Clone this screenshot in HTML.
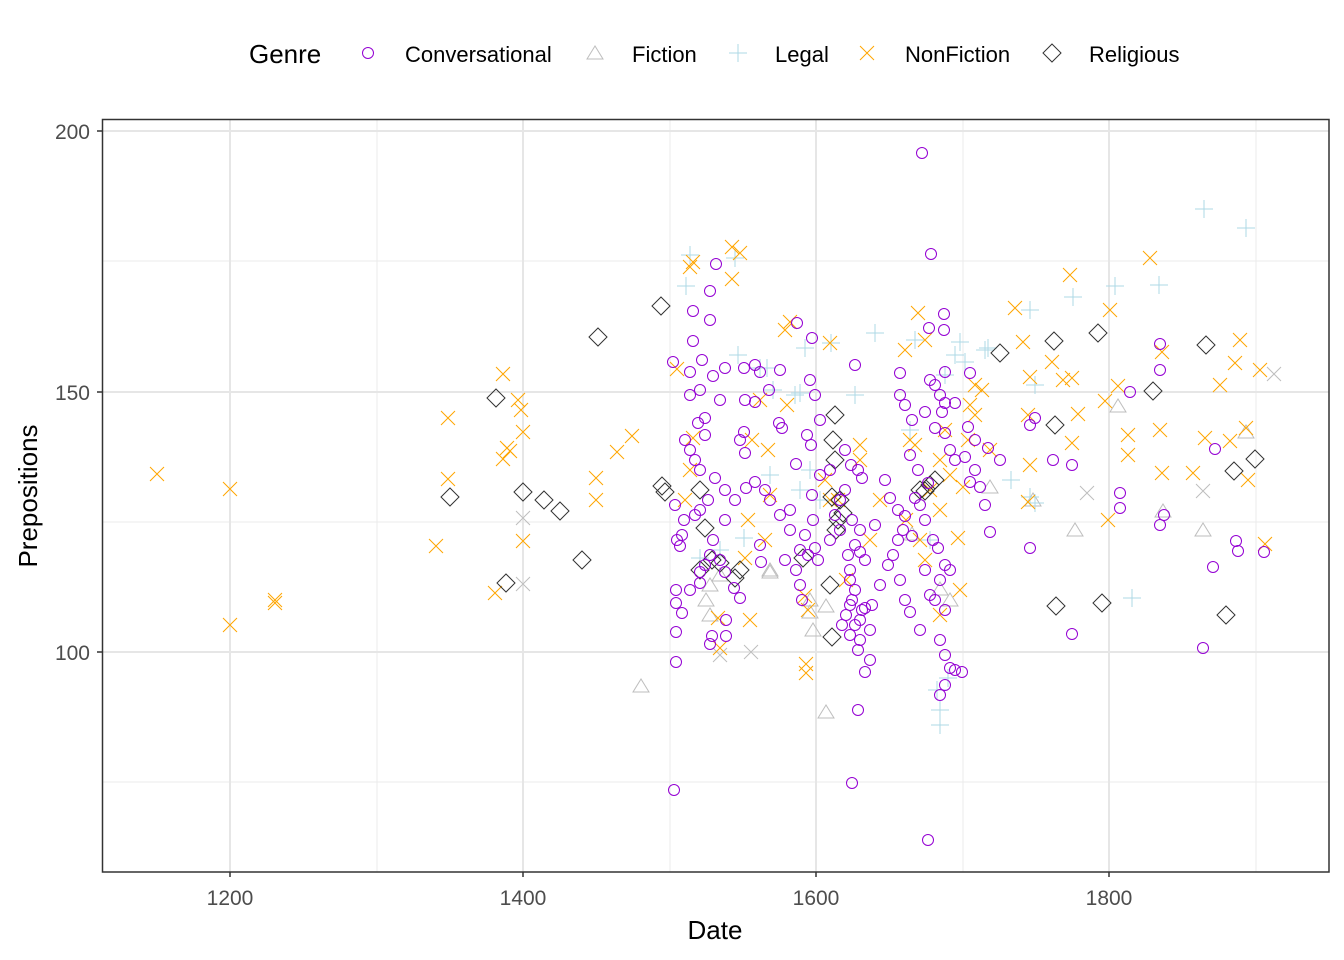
<!DOCTYPE html>
<html><head><meta charset="utf-8"><style>
html,body{margin:0;padding:0;background:#fff;}
svg{display:block;font-family:"Liberation Sans",Arial,sans-serif;}
</style></head><body>
<svg id="s" width="1344" height="960" xmlns="http://www.w3.org/2000/svg">
<rect width="1344" height="960" fill="#fff"/>
<g stroke="#ebebeb" stroke-width="1">
<line x1="377" y1="119" x2="377" y2="872"/><line x1="670" y1="119" x2="670" y2="872"/><line x1="963" y1="119" x2="963" y2="872"/><line x1="1256" y1="119" x2="1256" y2="872"/>
<line x1="102" y1="261" x2="1329" y2="261"/><line x1="102" y1="522" x2="1329" y2="522"/><line x1="102" y1="782" x2="1329" y2="782"/>
</g>
<g stroke="#e6e6e6" stroke-width="2">
<line x1="230" y1="119" x2="230" y2="872"/><line x1="523" y1="119" x2="523" y2="872"/><line x1="816" y1="119" x2="816" y2="872"/><line x1="1109" y1="119" x2="1109" y2="872"/>
<line x1="102" y1="131" x2="1329" y2="131"/><line x1="102" y1="392" x2="1329" y2="392"/><line x1="102" y1="652" x2="1329" y2="652"/>
</g>
<g id="pts"></g>
<rect x="102.5" y="119.5" width="1226.5" height="752.5" fill="none" stroke="#333" stroke-width="1.5"/>
<g stroke="#333" stroke-width="1.5">
<line x1="97" y1="131" x2="102" y2="131"/><line x1="97" y1="392" x2="102" y2="392"/><line x1="97" y1="652" x2="102" y2="652"/>
<line x1="230" y1="872" x2="230" y2="877"/><line x1="523" y1="872" x2="523" y2="877"/><line x1="816" y1="872" x2="816" y2="877"/><line x1="1109" y1="872" x2="1109" y2="877"/>
</g>
<g fill="#4d4d4d" font-size="21">
<text x="90" y="139" text-anchor="end">200</text><text x="90" y="400" text-anchor="end">150</text><text x="90" y="660" text-anchor="end">100</text>
<text x="230" y="905" text-anchor="middle">1200</text><text x="523" y="905" text-anchor="middle">1400</text><text x="816" y="905" text-anchor="middle">1600</text><text x="1109" y="905" text-anchor="middle">1800</text>
</g>
<text x="715" y="939" text-anchor="middle" font-size="26">Date</text>
<text transform="translate(37,496) rotate(-90)" text-anchor="middle" font-size="26">Prepositions</text>
<text x="249" y="63" font-size="26">Genre</text>
<g font-size="22">
<text x="405" y="62">Conversational</text><text x="632" y="62">Fiction</text><text x="775" y="62">Legal</text><text x="905" y="62">NonFiction</text><text x="1089" y="62">Religious</text>
</g>
<g id="leg"></g>
</svg>
<script>
var NS="http://www.w3.org/2000/svg";
function el(p,t,a){var e=document.createElementNS(NS,t);for(var k in a)e.setAttribute(k,a[k]);p.appendChild(e);return e;}
function circ(g,x,y){el(g,"circle",{cx:x,cy:y,r:5.5,fill:"none",stroke:"#9400D3","stroke-width":1});}
function tri(g,x,y,c){el(g,"polygon",{points:(x)+","+(y-7)+" "+(x-8)+","+(y+6)+" "+(x+8)+","+(y+6),fill:"none",stroke:c||"#bebebe","stroke-width":1});}
function plus(g,x,y){el(g,"path",{d:"M"+(x-9)+" "+y+"H"+(x+9)+"M"+x+" "+(y-9)+"V"+(y+9),stroke:"#ADD8E6","stroke-width":1,fill:"none"});}
function cross(g,x,y,c){el(g,"path",{d:"M"+(x-7)+" "+(y-7)+"L"+(x+7)+" "+(y+7)+"M"+(x+7)+" "+(y-7)+"L"+(x-7)+" "+(y+7),stroke:c,"stroke-width":1,fill:"none"});}
function dia(g,x,y){el(g,"polygon",{points:x+","+(y-9)+" "+(x+9)+","+y+" "+x+","+(y+9)+" "+(x-9)+","+y,fill:"none",stroke:"#333","stroke-width":1});}
var g=document.getElementById("pts");
var C=[922,153,931,254,716,264,710,291,710,320,797,323,812,338,944,314,944,330,929,328,693,311,693,341,673,362,690,372,702,360,713,376,725,368,744,368,755,365,745,400,755,402,744,432,745,453,746,488,725,520,713,540,710,555,705,565,700,572,700,583,690,590,720,560,725,572,734,588,740,598,712,636,710,644,726,636,726,620,675,505,677,540,682,535,676,590,676,603,682,613,676,662,674,790,769,390,782,428,779,423,796,464,807,435,811,445,820,475,812,495,813,520,805,535,800,550,808,555,815,548,818,560,790,510,785,560,796,570,800,585,802,600,760,545,761,562,855,365,851,465,858,470,862,478,852,520,860,530,855,545,860,552,865,560,850,580,855,590,852,600,860,620,860,640,870,630,858,650,870,660,865,672,858,710,852,783,845,450,845,490,840,500,830,470,875,525,885,480,890,498,898,510,900,580,905,600,910,612,920,630,925,570,930,595,935,600,940,580,945,565,950,570,945,610,940,640,945,655,950,668,955,670,962,672,945,685,940,695,928,840,915,498,920,505,925,520,933,540,938,548,930,380,935,385,940,395,945,372,945,403,942,412,945,433,955,403,950,450,955,460,965,457,970,373,975,440,970,482,980,487,985,505,990,532,988,448,968,427,935,428,925,412,912,420,905,405,900,373,900,395,910,455,918,470,928,483,905,516,912,536,1030,425,1035,418,1053,460,1030,548,1072,465,1120,493,1120,508,1130,392,1160,344,1160,525,1164,515,1160,370,1203,648,1213,567,1215,449,1236,541,1238,551,1264,552,1072,634,1000,460,975,470,810,380,815,395,820,420,780,370,760,372,700,390,690,395,685,440,690,450,695,460,700,470,715,478,725,490,735,500,740,440,720,400,705,418,698,423,705,435,708,500,700,510,695,515,680,546,676,632,684,520,755,482,765,490,770,500,780,515,790,530,830,540,835,515,840,530,848,555,850,570,865,608,872,605,880,585,888,565,893,555,898,540,903,530,850,605,862,610,855,625,850,635,842,625,846,615];
var L=[686,286,690,255,735,258,738,355,760,368,767,368,773,390,800,393,805,348,831,343,875,333,915,340,960,342,985,350,965,362,1030,310,1073,297,1115,286,1159,285,1204,209,1246,228,1132,598,940,725,940,710,937,690,948,678,930,540,1030,497,1035,503,744,538,770,475,800,490,810,470,795,395,855,395,820,500,910,430,945,375,955,355,988,348,700,558,720,550,1011,480,1035,385];
var F=[641,686,826,712,813,630,810,612,826,606,770,572,706,600,710,615,720,575,1075,530,1163,511,1203,530,1246,432,1118,406,1033,500,940,589,950,600,912,534,990,487,770,570,710,585,810,600];
var GX=[523,518,523,584,751,652,1087,493,1203,491,1274,374,720,655];
var N=[157,474,230,489,230,625,275,600,275,603,436,546,448,479,448,418,495,593,503,459,503,374,507,448,510,451,518,400,521,410,523,432,523,541,596,478,596,500,617,452,632,436,677,369,685,500,690,470,693,438,693,262,690,267,732,247,732,279,740,253,718,618,720,648,745,558,748,520,750,620,752,440,760,400,768,450,765,540,770,495,785,330,790,322,787,405,805,596,808,610,806,664,806,673,830,343,825,480,830,500,838,500,846,580,860,460,860,445,870,540,880,500,905,350,918,313,925,340,906,520,910,440,915,445,920,540,925,560,930,490,940,460,950,475,945,430,958,538,963,487,968,440,970,405,975,385,982,390,990,450,960,590,975,415,940,510,1015,308,1023,342,1030,377,1030,465,1028,502,1028,415,1052,362,1063,380,1070,275,1072,378,1072,443,1078,414,1105,401,1110,310,1118,386,1128,435,1128,455,1150,258,1160,430,1162,352,1162,473,1193,473,1205,438,1220,385,1230,441,1240,340,1235,363,1248,480,1260,370,1265,544,1246,428,1108,520,940,615];
var R=[661,306,598,337,496,398,450,497,506,583,523,492,544,500,560,511,582,560,665,492,700,490,705,528,700,570,712,560,720,563,735,578,740,570,803,558,830,585,832,637,835,415,833,440,835,460,832,497,840,500,843,513,838,520,836,530,925,491,930,485,935,480,920,490,1000,353,1054,341,1055,425,1056,606,1098,333,1102,603,1153,391,1206,345,1226,615,1234,471,1255,459,662,486];
var i;
for(i=0;i<F.length;i+=2)tri(g,F[i],F[i+1]);
for(i=0;i<GX.length;i+=2)cross(g,GX[i],GX[i+1],"#bebebe");
for(i=0;i<L.length;i+=2)plus(g,L[i],L[i+1]);
for(i=0;i<N.length;i+=2)cross(g,N[i],N[i+1],"#FFA500");
for(i=0;i<R.length;i+=2)dia(g,R[i],R[i+1]);
for(i=0;i<C.length;i+=2)circ(g,C[i],C[i+1]);
var lg=document.getElementById("leg");
circ(lg,368,53);tri(lg,595,53);plus(lg,738,53);cross(lg,867,53,"#FFA500");dia(lg,1052,53);
</script>
</body></html>
